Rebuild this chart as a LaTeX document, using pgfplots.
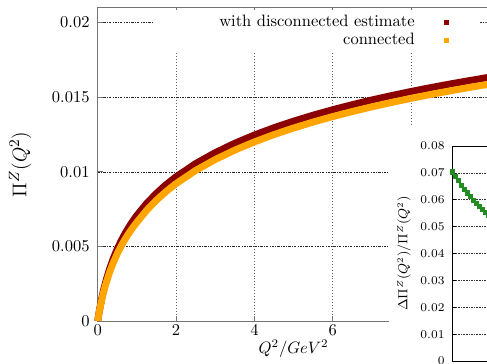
\documentclass[border=0pt]{standalone}
\usepackage{pgfplots}
\pgfplotsset{compat=1.18}

\definecolor{dred}{RGB}{139,0,0}
\definecolor{gorange}{RGB}{255,165,0}
\definecolor{fgreen}{RGB}{34,139,34}

\begin{document}
\begin{tikzpicture}[x=1pt,y=1pt]
\clip (0,0) rectangle (295.1,220.0);
\begin{axis}[
  at={(59.2pt,25.45pt)}, anchor=south west,
  width=237.4pt, height=189.9pt, scale only axis,
  xmin=0, xmax=10, ymin=0, ymax=0.021,
  xtick={0,2,4,6,8,10}, xticklabels={0,2,4,6,8,10},
  ytick={0,0.005,0.01,0.015,0.02}, yticklabels={0,0.005,0.01,0.015,0.02},
  scaled y ticks=false,
  axis line style={black!55, line width=0.6pt},
  tick style={black!55, line width=0.5pt},
  tick align=inside, major tick length=3pt,
  xmajorgrids, ymajorgrids,
  x grid style={black!60, line width=0.5pt, dash pattern=on 0.6pt off 1.2pt},
  y grid style={black!85, line width=0.4pt, dash pattern=on 1.4pt off 0.8pt on 0.4pt off 0.8pt},
  yticklabel style={xshift=-1.4pt},
  xticklabel style={yshift=1.5pt},
  xlabel={$Q^2/GeV^2$}, ylabel={$\Pi^Z(Q^2)$},
  xlabel style={at={(axis description cs:0.5,-0.089)}, anchor=center},
  ylabel style={at={(axis description cs:-0.198,0.5)}, anchor=center, font=\fontsize{12.5}{15}\selectfont},
  clip=false,
  legend style={at={(0.976,0.9927)}, anchor=north east, fill=white, draw=none,
    inner xsep=0pt, inner ysep=3pt, nodes={inner sep=0pt}, row sep=2.6pt, column sep=0pt},
  legend cell align=right, legend plot pos=right,
  legend image code/.code={\path[draw=none,fill=none] (0pt,-1.6pt) rectangle (39.4pt,1.6pt); \fill[#1, draw=none] (17.8pt,-1.6pt) rectangle (21pt,1.6pt);},
]
\addplot[dred, line width=4.2pt, line join=round] coordinates {
(0,0) (0.025,0.000419) (0.05,0.000802) (0.1,0.00148) (0.15,0.002068) (0.2,0.002586)
(0.3,0.003469) (0.4,0.004204) (0.5,0.004834) (0.6,0.005385) (0.7,0.005874)
(0.8,0.006314) (0.9,0.006715) (1.0,0.007082) (1.25,0.007884) (1.5,0.008562)
(1.75,0.00915) (2.0,0.009668) (2.5,0.010551) (3.0,0.011286) (3.5,0.011915)
(4.0,0.012466) (4.5,0.012956) (5.0,0.013396) (5.5,0.013796) (6.0,0.014163)
(6.5,0.014502) (7.0,0.014816) (7.5,0.01511) (8.0,0.015385) (8.5,0.015644)
(9.0,0.015888) (9.5,0.01612) (10.0,0.01634)
};
\addlegendentry{\hspace*{40pt}with disconnected estimate}
\addplot[gorange, line width=4.2pt, line join=round] coordinates {
(0,0) (0.025,0.000392) (0.05,0.00075) (0.1,0.001384) (0.15,0.001933) (0.2,0.002418)
(0.3,0.003244) (0.4,0.003931) (0.5,0.00452) (0.6,0.005035) (0.7,0.005492)
(0.8,0.005904) (0.9,0.006279) (1.0,0.006622) (1.25,0.007424) (1.5,0.008102)
(1.75,0.00869) (2.0,0.009208) (2.5,0.010091) (3.0,0.010826) (3.5,0.011455)
(4.0,0.012006) (4.5,0.012496) (5.0,0.012936) (5.5,0.013336) (6.0,0.013703)
(6.5,0.014042) (7.0,0.014356) (7.5,0.01465) (8.0,0.014925) (8.5,0.015184)
(9.0,0.015428) (9.5,0.01566) (10.0,0.01588)
};
\addlegendentry{connected}
\end{axis}
\fill[white] (235.7,-5) rectangle (300,144.2);
\begin{axis}[
  at={(274.3pt,1.21pt)}, anchor=south west,
  width=121.2pt, height=130.3pt, scale only axis,
  xmin=0, xmax=10, ymin=0, ymax=0.08,
  xtick={0,2,4,6,8,10}, xticklabels={0,2,4,6,8,10},
  ytick={0,0.01,0.02,0.03,0.04,0.05,0.06,0.07,0.08},
  yticklabels={0,0.01,0.02,0.03,0.04,0.05,0.06,0.07,0.08},
  scaled y ticks=false,
  axis line style={black, line width=0.5pt},
  tick style={black, line width=0.4pt},
  tick align=inside, major tick length=2pt,
  ymajorgrids,
  y grid style={black!80, line width=0.4pt, dash pattern=on 1pt off 0.6pt},
  ticklabel style={font=\fontsize{7.2}{8.5}\selectfont},
  yticklabel style={xshift=-1.4pt},
  ylabel={$\Delta\Pi^Z(Q^2)/\Pi^Z(Q^2)$},
  ylabel style={at={(axis description cs:-0.2435,0.5)}, anchor=center, font=\fontsize{7.6}{9}\selectfont},
]
\addplot[only marks, mark=square*, mark size=1.25pt, fgreen] coordinates {
(0.00,0.0704) (0.15,0.0688) (0.30,0.0671) (0.45,0.0655) (0.60,0.0640)
(0.75,0.0626) (0.90,0.0612) (1.05,0.0599) (1.20,0.0587) (1.35,0.0575)
(1.50,0.0563) (1.65,0.0552) (1.80,0.0541) (1.95,0.0531)
};
\end{axis}
\end{tikzpicture}
\end{document}
